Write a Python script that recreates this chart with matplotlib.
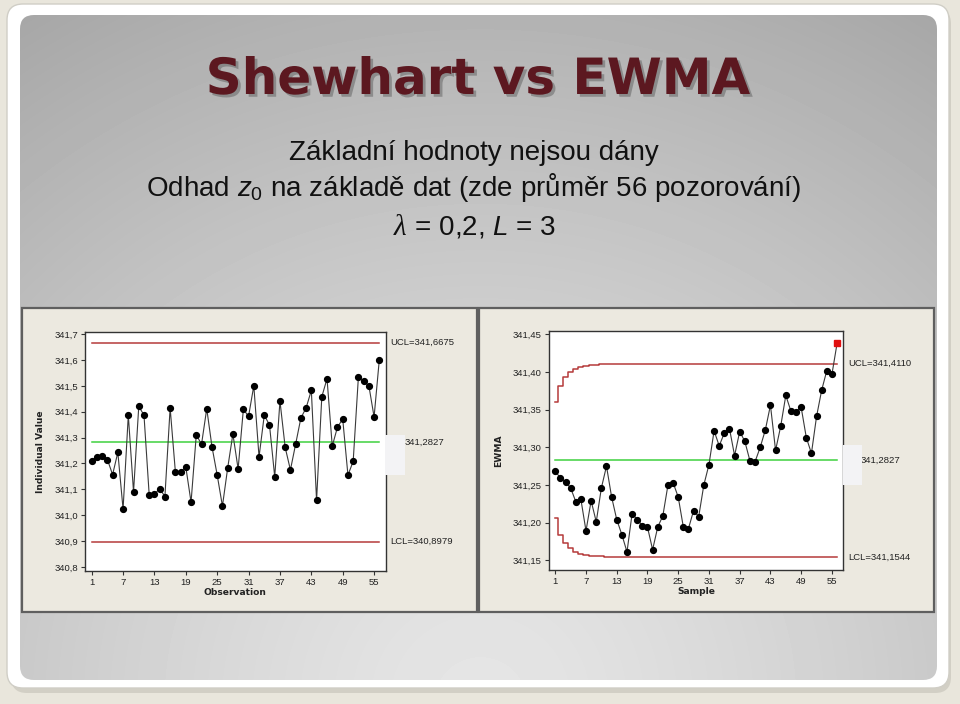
import numpy as np
import matplotlib
matplotlib.use('Agg')
import matplotlib.pyplot as plt
import matplotlib.patheffects as pe
from matplotlib.patches import FancyBboxPatch, Rectangle
from matplotlib.ticker import FuncFormatter, FixedLocator
from matplotlib import transforms

########
# Data #
########

obs = np.arange(1, 57)
indiv = [341.210, 341.225, 341.230, 341.215, 341.157, 341.243, 341.023, 341.387, 341.090, 341.421,
         341.387, 341.077, 341.081, 341.103, 341.072, 341.415, 341.168, 341.168, 341.186, 341.050,
         341.311, 341.274, 341.412, 341.265, 341.155, 341.035, 341.182, 341.314, 341.179, 341.409,
         341.383, 341.501, 341.225, 341.387, 341.349, 341.148, 341.442, 341.262, 341.175, 341.275,
         341.376, 341.415, 341.483, 341.057, 341.458, 341.528, 341.267, 341.341, 341.372, 341.155,
         341.208, 341.535, 341.518, 341.501, 341.380, 341.602]
ewma = [341.2686, 341.259, 341.254, 341.246, 341.228, 341.231, 341.189, 341.229, 341.201, 341.246,
        341.275, 341.234, 341.204, 341.184, 341.161, 341.212, 341.204, 341.196, 341.194, 341.164,
        341.194, 341.209, 341.250, 341.253, 341.234, 341.194, 341.192, 341.216, 341.208, 341.250,
        341.277, 341.322, 341.302, 341.319, 341.325, 341.289, 341.321, 341.308, 341.282, 341.281,
        341.300, 341.323, 341.356, 341.296, 341.328, 341.369, 341.348, 341.347, 341.353, 341.313,
        341.292, 341.341, 341.376, 341.402, 341.397, 341.438]
ewma_alarm = [56]

center = 341.2827
i_ucl, i_lcl = 341.6675, 340.8979
e_ucl, e_lcl = 341.4110, 341.1544
lam = 0.2

xticks = [1, 7, 13, 19, 25, 31, 37, 43, 49, 55]
i_yticks = [340.8, 340.9, 341.0, 341.1, 341.2, 341.3, 341.4, 341.5, 341.6, 341.7]
e_yticks = [341.15, 341.20, 341.25, 341.30, 341.35, 341.40, 341.45]

##########
# Figure #
##########

W, H = 960, 704
fig = plt.figure(figsize=(W / 100, H / 100), dpi=100)
fig.patch.set_facecolor('#e9e6dc')

bg = fig.add_axes([0, 0, 1, 1], zorder=-10)
bg.set_xlim(0, W)
bg.set_ylim(H, 0)
bg.axis('off')

# white card with soft shadow
bg.add_patch(FancyBboxPatch((11, 8), 940, 685, boxstyle='round,pad=0,rounding_size=16',
                            fc='#c3c0b6', ec='none', alpha=0.6))
bg.add_patch(FancyBboxPatch((7, 4), 942, 684, boxstyle='round,pad=0,rounding_size=16',
                            fc='white', ec='#d0cec6', lw=1))

# gray gradient panel
panel = FancyBboxPatch((20, 15), 917, 665, boxstyle='round,pad=0,rounding_size=14',
                       fc='none', ec='none')
bg.add_patch(panel)
yy, xx = np.mgrid[0:H, 0:W]
d = np.hypot(xx - 480, (yy - 700) * 1.05) / 860
grad = 0.90 - 0.25 * np.clip(d, 0, 1) ** 1.3
im = bg.imshow(grad, cmap='gray', vmin=0, vmax=1, extent=(0, W, H, 0), zorder=1)
im.set_clip_path(panel)

# Minitab chart panels
for x0 in (22, 479):
    bg.add_patch(Rectangle((x0, 308), 455, 304, fc='#ece9e0', ec='#5f5f5f', lw=1.6, zorder=2))

# headings
bg.text(478, 80, 'Shewhart vs EWMA', ha='center', va='center', fontsize=36,
        family='DejaVu Sans', weight='bold', color='#5c1820', zorder=3,
        path_effects=[pe.SimplePatchShadow(offset=(2, -2), shadow_rgbFace='#555555', alpha=0.45),
                      pe.Normal()])

plt.rcParams['mathtext.fontset'] = 'custom'
plt.rcParams['mathtext.rm'] = 'Liberation Sans'
plt.rcParams['mathtext.it'] = 'Liberation Sans:italic'

sub = dict(ha='center', va='center', fontsize=20, family='Liberation Sans',
           color='#111111', zorder=3)
bg.text(474, 153, 'Základní hodnoty nejsou dány', **sub)
bg.text(474, 188, 'Odhad $z_0$ na základě dat (zde průměr 56 pozorování)', **sub)
rest = bg.text(481, 228, ' = 0,2, $L$ = 3', **sub)
bg.annotate('λ', xy=(0, 0.5), xycoords=rest, ha='right', va='center', fontsize=21,
            family='Liberation Serif', style='italic', color='#111111', zorder=3)

##########
# Charts #
##########

tick_font = dict(family='Liberation Sans', size=6.8, color='#222222')
lab_font = dict(family='DejaVu Sans', size=6.6, weight='bold', color='#222222')
red = '#b53a3a'
green = '#3fd13f'


def px_axes(x0, x1, top, bottom):
    return fig.add_axes([x0 / W, 1 - bottom / H, (x1 - x0) / W, (bottom - top) / H])


def style(ax, yticks, fmt, ylim):
    ax.set_facecolor('white')
    ax.set_xlim(-0.28, 57.22)
    ax.set_ylim(*ylim)
    for side in ('top', 'right', 'left', 'bottom'):
        ax.spines[side].set_color('#333333')
        ax.spines[side].set_linewidth(1.0)
    ax.xaxis.set_major_locator(FixedLocator(xticks))
    ax.yaxis.set_major_locator(FixedLocator(yticks))
    ax.yaxis.set_major_formatter(FuncFormatter(lambda v, p: fmt.format(v).replace('.', ',')))
    ax.tick_params(direction='out', length=3, width=0.8, color='#333333', pad=2,
                   top=False, right=False)
    for lbl in ax.get_xticklabels() + ax.get_yticklabels():
        lbl.set_fontfamily(tick_font['family'])
        lbl.set_fontsize(tick_font['size'])
        lbl.set_color(tick_font['color'])


def limit_label(ax, y, text, xf=1.016):
    tr = transforms.blended_transform_factory(ax.transAxes, ax.transData)
    ax.text(xf, y, text, transform=tr, ha='left', va='center', clip_on=False,
            fontfamily='Liberation Sans', fontsize=6.8, color='#222222')


span = ((1 + 0.28) / 57.5, (56 + 0.28) / 57.5)

# Shewhart individuals chart
axA = px_axes(85, 385.7, 331.7, 570.7)
axA.axhline(i_ucl, xmin=span[0], xmax=span[1], color=red, lw=1.1)
axA.axhline(i_lcl, xmin=span[0], xmax=span[1], color=red, lw=1.1)
axA.axhline(center, xmin=span[0], xmax=span[1], color=green, lw=1.1)
axA.plot(obs, indiv, '-', color='#3a3a3a', lw=0.8, marker='o', ms=4.2, mfc='black', mec='black')
style(axA, i_yticks, '{:.1f}', (340.785, 341.71))
axA.set_xlabel('Observation', labelpad=1, **lab_font)
axA.set_ylabel('Individual Value', labelpad=7, **lab_font)
limit_label(axA, i_ucl, 'UCL=341,6675')
limit_label(axA, center, '341,2827', xf=1.062)
limit_label(axA, i_lcl, 'LCL=340,8979')

# EWMA chart with stepped limits
k = np.arange(1, len(obs) + 1)
half = (e_ucl - center) * np.sqrt(1 - (1 - lam) ** (2 * k))
axB = px_axes(548.7, 843.3, 330.7, 570.0)
axB.plot(obs, center + half, color=red, lw=1.1, drawstyle='steps-mid')
axB.plot(obs, center - half, color=red, lw=1.1, drawstyle='steps-mid')
axB.axhline(center, xmin=span[0], xmax=span[1], color=green, lw=1.1)
axB.plot(obs, ewma, '-', color='#3a3a3a', lw=0.8)
ok = [i for i in range(len(obs)) if obs[i] not in ewma_alarm]
bad = [i for i in range(len(obs)) if obs[i] in ewma_alarm]
axB.plot(obs[ok], np.array(ewma)[ok], 'o', ms=4.2, color='black')
axB.plot(obs[bad], np.array(ewma)[bad], 's', ms=4.4, color='#e01010')
style(axB, e_yticks, '{:.2f}', (341.137, 341.455))
axB.set_xlabel('Sample', labelpad=1, **lab_font)
axB.set_ylabel('EWMA', labelpad=7, **lab_font)
limit_label(axB, e_ucl, 'UCL=341,4110', xf=1.016)
limit_label(axB, center, '341,2827', xf=1.060)
limit_label(axB, e_lcl, 'LCL=341,1544', xf=1.016)

# light boxes covering the centre-line labels
for (x0, y0, w, h) in ((385, 435, 20, 40), (843, 445, 19, 40)):
    fig.add_artist(Rectangle((x0 / W, 1 - (y0 + h) / H), w / W, h / H,
                             transform=fig.transFigure, fc='#f3f3f5', ec='none', zorder=20))

fig.savefig('out.png', dpi=100, facecolor=fig.get_facecolor())
